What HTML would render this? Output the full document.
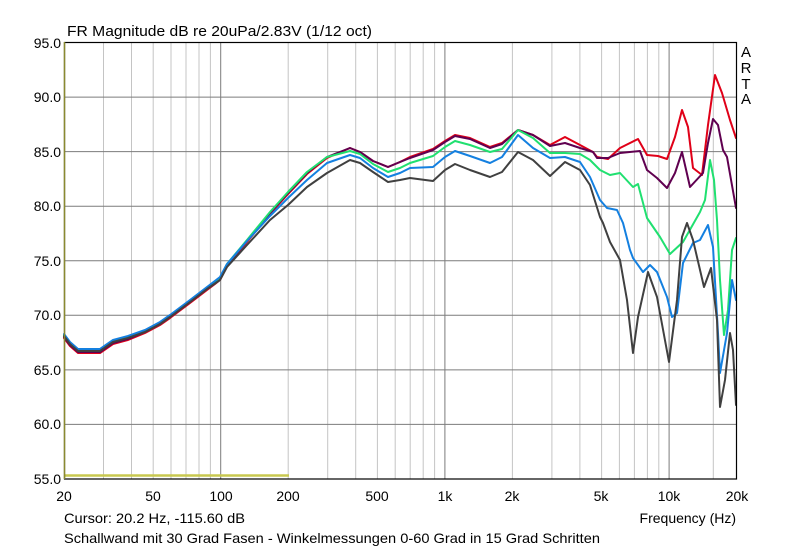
<!DOCTYPE html>
<html><head><meta charset="utf-8"><style>
html,body{margin:0;padding:0;background:#fff;}
svg{display:block;}
text{font-family:"Liberation Sans",Arial,sans-serif;fill:#000;}
</style></head><body>
<svg width="800" height="551" viewBox="0 0 800 551" xmlns="http://www.w3.org/2000/svg">
<rect x="0" y="0" width="800" height="551" fill="#fff"/>
<!-- minor vertical grid -->
<g stroke="#c4c4c4" stroke-width="1">
<line x1="103.5" y1="43" x2="103.5" y2="479"/><line x1="131.5" y1="43" x2="131.5" y2="479"/><line x1="153.2" y1="43" x2="153.2" y2="479"/><line x1="171" y1="43" x2="171" y2="479"/><line x1="186" y1="43" x2="186" y2="479"/><line x1="199" y1="43" x2="199" y2="479"/><line x1="210.4" y1="43" x2="210.4" y2="479"/>
<line x1="288.2" y1="43" x2="288.2" y2="479"/><line x1="327.7" y1="43" x2="327.7" y2="479"/><line x1="355.7" y1="43" x2="355.7" y2="479"/><line x1="377.4" y1="43" x2="377.4" y2="479"/><line x1="395.2" y1="43" x2="395.2" y2="479"/><line x1="410.2" y1="43" x2="410.2" y2="479"/><line x1="423.2" y1="43" x2="423.2" y2="479"/><line x1="434.6" y1="43" x2="434.6" y2="479"/>
<line x1="512.4" y1="43" x2="512.4" y2="479"/><line x1="551.9" y1="43" x2="551.9" y2="479"/><line x1="579.9" y1="43" x2="579.9" y2="479"/><line x1="601.6" y1="43" x2="601.6" y2="479"/><line x1="619.4" y1="43" x2="619.4" y2="479"/><line x1="634.4" y1="43" x2="634.4" y2="479"/><line x1="647.4" y1="43" x2="647.4" y2="479"/><line x1="658.8" y1="43" x2="658.8" y2="479"/>
<line x1="713.3" y1="43" x2="713.3" y2="479"/>
</g>
<!-- major grid -->
<g stroke="#7c7c7c" stroke-width="1">
<line x1="220.7" y1="43" x2="220.7" y2="479"/><line x1="444.9" y1="43" x2="444.9" y2="479"/><line x1="669.1" y1="43" x2="669.1" y2="479"/>
<line x1="64" y1="97.1" x2="737" y2="97.1"/><line x1="64" y1="151.6" x2="737" y2="151.6"/><line x1="64" y1="206.2" x2="737" y2="206.2"/><line x1="64" y1="260.8" x2="737" y2="260.8"/><line x1="64" y1="315.3" x2="737" y2="315.3"/><line x1="64" y1="369.9" x2="737" y2="369.9"/><line x1="64" y1="424.4" x2="737" y2="424.4"/>
</g>
<!-- yellow -->
<line x1="64" y1="475.5" x2="289" y2="475.5" stroke="#c8c850" stroke-width="2.5"/>
<!-- curves -->
<g fill="none" stroke-width="2" stroke-linejoin="round" stroke-linecap="round">
<polyline stroke="#e00018" points="64,338 70,346 78,353 90,353 100,353 113,344 128,340 145,333 160,325 170,318 190,303 207,290 215,284 220,280 227,266 247,242 270,214 288,194 307,174 327,158 350,148 360,152 373,161 388,167 400,162 410,157 433,149 445,141 455,135 470,138 490,147 502,143 518,130 533,135 550,145 565,137 580,145 593,152 597,157 608,159 620,148 638,139 647,155 658,156 667,159 675,137 682,110 688,127 693,168 702,175 708,125 715,75 722,93 730,120 736,138"/>
<polyline stroke="#600050" points="64,337 70,345 78,352 100,352 113,343 128,339 145,332 160,324 170,317 190,302 207,289 220,279 227,265 247,241 270,213 288,193 307,173 327,157 350,148 360,152 373,161 388,167 400,162 410,158 433,150 445,142 455,136 470,139 490,148 502,144 518,130 533,135 550,146 565,143 580,148 593,152 597,158 608,158 620,153 640,151 647,170 657,178 667,188 675,173 682,152 690,187 703,173 708,143 713,119 718,125 723,150 727,157 736,208"/>
<polyline stroke="#20e070" points="64,335 70,343 78,350 100,350 113,341 128,337 145,331 160,323 170,316 190,301 207,288 220,278 227,264 247,240 270,212 288,192 307,172 327,157 350,151 360,154 373,164 388,172 400,168 410,163 433,156 445,147 455,141 470,145 490,152 502,149 518,130 533,138 550,153 565,153 580,154 590,160 600,170 610,175 620,173 633,187 638,184 647,218 660,237 670,254 683,242 700,212 705,200 710,160 714,180 717,220 720,280 724,335 728,310 732,250 736,238"/>
<polyline stroke="#1480e0" points="64,334 70,342 78,349 100,349 113,340 128,336 145,330 160,322 170,315 190,300 207,287 220,277 227,264 247,241 270,216 288,198 307,180 327,163 350,155 360,158 373,168 388,177 400,173 410,168 433,167 445,157 455,151 470,156 490,163 502,157 518,135 533,148 550,158 565,157 580,162 590,177 600,200 607,208 617,210 623,223 630,250 633,258 643,272 650,265 657,272 667,297 672,317 677,313 683,263 693,243 700,240 708,225 713,247 718,333 720,373 727,333 732,280 736,300"/>
<polyline stroke="#404040" points="64,336 70,344 78,351 100,351 113,342 128,338 145,332 160,324 170,317 190,302 207,289 220,280 227,267 247,245 270,220 288,205 307,187 327,173 350,160 360,163 373,172 388,182 400,180 410,178 433,181 445,170 455,164 470,170 490,177 502,172 518,152 533,160 550,176 565,162 580,170 590,185 600,217 603,223 610,242 620,260 627,300 633,353 638,317 648,272 657,297 669,362 677,300 682,237 687,223 693,240 704,287 711,268 717,320 720,407 725,380 730,333 733,350 736,405"/>
</g>
<!-- frame -->
<rect x="64.5" y="42.5" width="672" height="436.5" fill="none" stroke="#000" stroke-width="1.2"/>
<line x1="64.5" y1="42" x2="64.5" y2="479" stroke="#8a8a30" stroke-width="1.5"/>
<!-- y labels -->
<g font-size="14" text-anchor="end">
<text x="61" y="48">95.0</text><text x="61" y="102">90.0</text><text x="61" y="157">85.0</text><text x="61" y="211">80.0</text><text x="61" y="266">75.0</text><text x="61" y="320">70.0</text><text x="61" y="375">65.0</text><text x="61" y="429">60.0</text><text x="61" y="484">55.0</text>
</g>
<!-- x labels -->
<g font-size="14" text-anchor="middle">
<text x="64" y="501">20</text><text x="153" y="501">50</text><text x="221" y="501">100</text><text x="288" y="501">200</text><text x="377" y="501">500</text><text x="445" y="501">1k</text><text x="512" y="501">2k</text><text x="601" y="501">5k</text><text x="669" y="501">10k</text><text x="737" y="501">20k</text>
</g>
<text x="67" y="36" font-size="15" textLength="305" lengthAdjust="spacingAndGlyphs">FR Magnitude dB re 20uPa/2.83V (1/12 oct)</text>
<text x="64" y="523" font-size="14" textLength="181" lengthAdjust="spacingAndGlyphs">Cursor: 20.2 Hz, -115.60 dB</text>
<text x="64" y="543" font-size="14" textLength="536" lengthAdjust="spacingAndGlyphs">Schallwand mit 30 Grad Fasen - Winkelmessungen 0-60 Grad in 15 Grad Schritten</text>
<text x="736" y="523" font-size="14" text-anchor="end">Frequency (Hz)</text>
<g font-size="15" text-anchor="middle">
<text x="746" y="57">A</text><text x="746" y="73">R</text><text x="746" y="89">T</text><text x="746" y="104">A</text>
</g>
</svg>
</body></html>
